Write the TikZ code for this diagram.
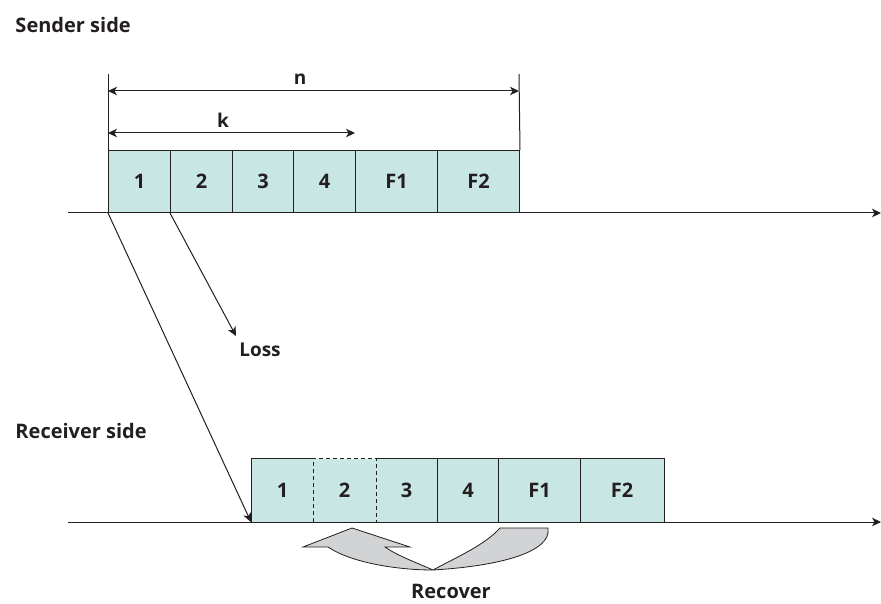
\documentclass[tikz,border=0pt]{standalone}
\usepackage{fontspec}
\setmainfont{Open Sans}
\usetikzlibrary{arrows.meta}
\definecolor{cellfill}{RGB}{200,230,227}
\definecolor{ink}{RGB}{35,31,32}
\definecolor{recfill}{RGB}{210,211,213}
\begin{document}
\begin{tikzpicture}[x=1pt,y=-1pt,
  line width=1pt,
  tip/.style={-{Stealth[length=9pt,width=8.5pt,inset=2.5pt]}},
  dtip/.style={{Stealth[length=9pt,width=8.5pt,inset=2.5pt]}-{Stealth[length=9pt,width=8.5pt,inset=2.5pt]}},
  cell/.style={draw=ink, fill=cellfill, inner sep=0pt, anchor=south west,
    text=ink, font=\bfseries\fontsize{20}{24}\selectfont},
  rcell/.style={fill=cellfill, inner sep=0pt, anchor=south west,
    text=ink, font=\bfseries\fontsize{20}{24}\selectfont},
  lbl/.style={text=ink, font=\bfseries\fontsize{20}{24}\selectfont, inner sep=0pt},
  slbl/.style={text=ink, font=\bfseries\fontsize{19}{23}\selectfont, inner sep=0pt}]
\useasboundingbox (0,0) rectangle (881,604);

% labels
\node[lbl, anchor=west] (sender) at (15,25) {Sender side};
\node[lbl, anchor=west] (receiver) at (15,431) {Receiver side};

% sender cells
\node[cell, minimum width=62pt, minimum height=62pt] (s1) at (108,213) {1};
\node[cell, minimum width=62pt, minimum height=62pt] (s2) at (170,213) {2};
\node[cell, minimum width=61pt, minimum height=62pt] (s3) at (232,213) {3};
\node[cell, minimum width=62pt, minimum height=62pt] (s4) at (293,213) {4};
\node[cell, minimum width=82pt, minimum height=62pt] (s5) at (355,213) {F1};
\node[cell, minimum width=82pt, minimum height=62pt] (s6) at (437,213) {F2};

% receiver cells (fill only, outlines drawn below)
\node[rcell, minimum width=62pt, minimum height=63pt] (r1) at (251,522) {1};
\node[rcell, minimum width=62pt, minimum height=63pt] (r2) at (313,522) {2};
\node[rcell, minimum width=62pt, minimum height=63pt] (r3) at (375,522) {3};
\node[rcell, minimum width=61pt, minimum height=63pt] (r4) at (437,522) {4};
\node[rcell, minimum width=82pt, minimum height=63pt] (r5) at (498,522) {F1};
\node[rcell, minimum width=83pt, minimum height=63pt] (r6) at (580,522) {F2};
\draw[ink] (r1.north east) -- (r1.north west) -- (r1.south west) -- (r1.south east);
\draw[ink] (r3.north west) -- (r6.north east) -- (r6.south east) -- (r3.south west);
\draw[ink] (r4.north west) -- (r4.south west);
\draw[ink] (r5.north west) -- (r5.south west);
\draw[ink] (r6.north west) -- (r6.south west);
\draw[ink, dash pattern=on 4pt off 3pt] (r2.south west) rectangle (r2.north east);

% time axes
\coordinate (sa) at (68,213);
\coordinate (se) at (881,213);
\coordinate (ra) at (68,522);
\coordinate (re) at (881,522);
\draw[ink, tip] (sa) -- (se);
\draw[ink, tip] (ra) -- (re);

% dimension lines
\coordinate (nL) at (108,74);
\coordinate (nR) at (519,74);
\draw[ink] (s1.north west) -- (nL);
\draw[ink] (s6.north east) -- (nR);
\coordinate (n1) at (108,91);
\coordinate (n2) at (519,91);
\coordinate (k1) at (108,133);
\coordinate (k2) at (355,133);
\draw[ink, dtip] (n1) -- (n2);
\draw[ink, dtip] (k1) -- (k2);
\node[slbl] (nlab) at (300,79) {n};
\node[slbl] (klab) at (223,120) {k};

% transmissions
\coordinate (losstip) at (236,336);
\draw[ink, tip] (s2.south west) -- (losstip);
\node[slbl] (loss) at (260,350) {Loss};
\draw[ink, tip] (s1.south west) -- (r1.south west);

% recover arrow
\draw[ink, line width=0.8pt, fill=recfill, line join=miter]
  (433,570) .. controls (500,566) and (552,552) .. (548,528)
  -- (500,528)
  .. controls (485,545) and (455,558) .. (433,570)
  .. controls (415,562) and (398,556) .. (385,547)
  -- (410,547) -- (352,528) -- (303,547) -- (328,547)
  .. controls (350,562) and (395,570) .. (433,570) -- cycle;
\node[lbl] (recover) at (451,591) {Recover};
\end{tikzpicture}
\end{document}
